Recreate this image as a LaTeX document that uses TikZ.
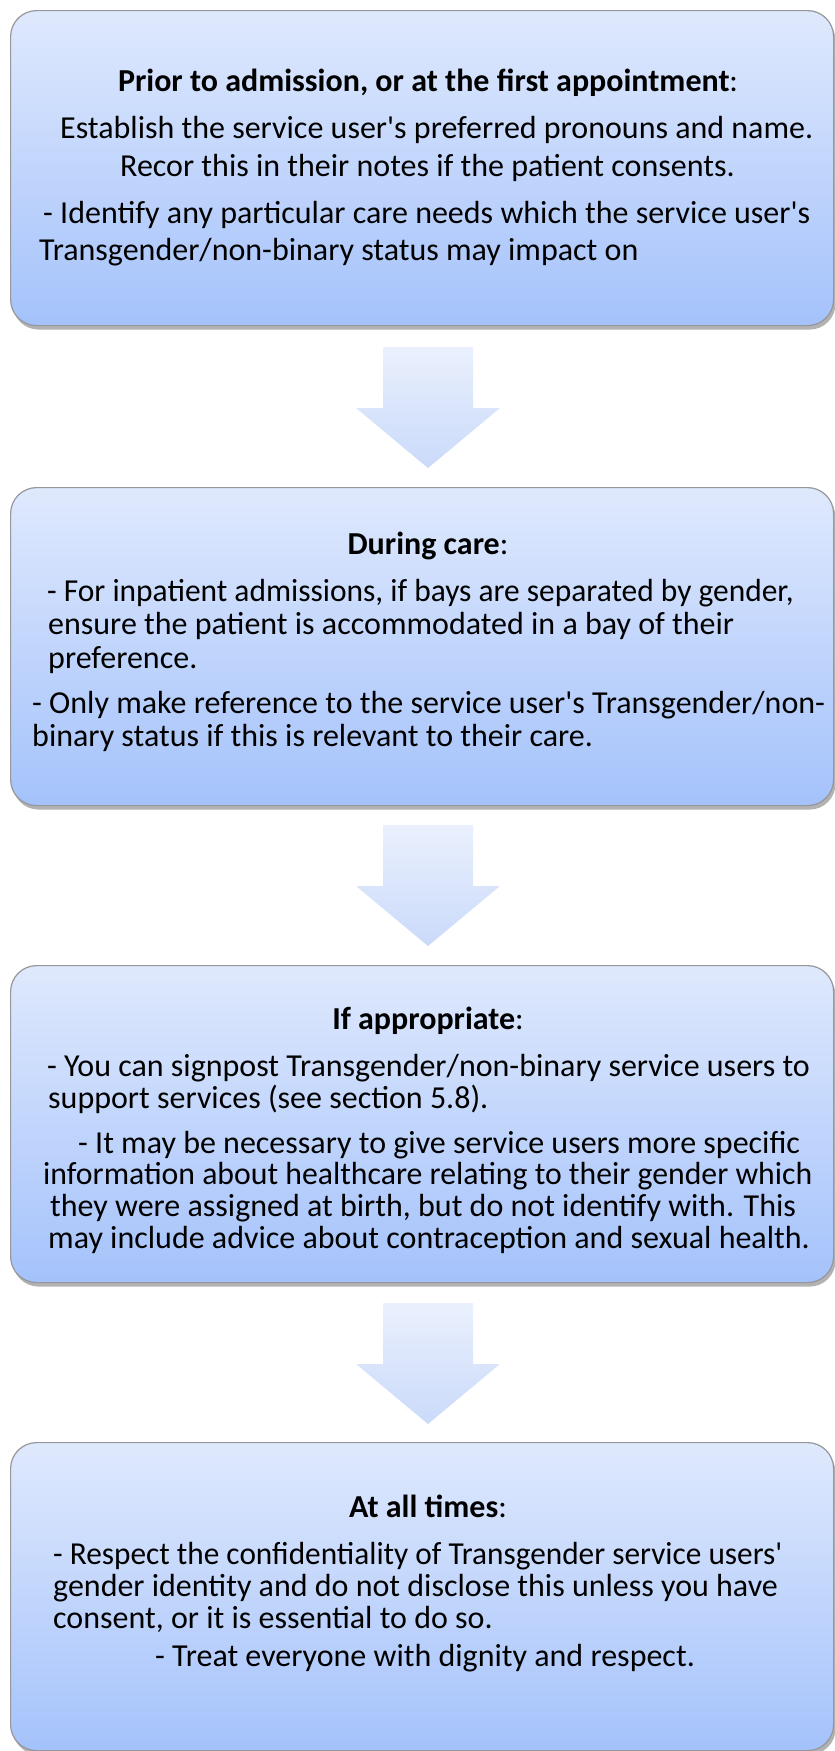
\documentclass[tikz,border=0pt]{standalone}
\usepackage{fontspec}
\usepackage{graphicx}
\setmainfont{Carlito}[Ligatures=TeXOff]
\usetikzlibrary{calc,shadows}
\definecolor{boxtop}{RGB}{223,233,253}
\definecolor{boxbot}{RGB}{164,194,251}
\definecolor{boxline}{RGB}{150,150,155}
\definecolor{arrtop}{RGB}{234,240,253}
\definecolor{arrbot}{RGB}{202,218,250}
\tikzset{
  flowbox/.style={draw=boxline, line width=1.2pt, rounded corners=26pt,
    top color=boxtop, bottom color=boxbot, anchor=north west, inner sep=0pt,
    drop shadow={shadow xshift=2pt, shadow yshift=-4pt, opacity=0.5, fill=black!60}},
  txt/.style={inner sep=0pt, font=\fontsize{32}{38}\selectfont, text=black},
  ln/.style={txt, anchor=base west},
  hd/.style={txt, anchor=base},
  blockarrow/.style={top color=arrtop, bottom color=arrbot, draw=none}
}
\newcommand{\bxnode}[4]{% name, left, top, height
  \node[flowbox, minimum width=823pt, minimum height=#4pt] (#1) at (#2pt,-#3pt) {};}
\newcommand{\barrow}[2]{% name, top y
  \coordinate (#1) at (428pt,-#2pt);
  \shade[blockarrow] ($(#1)+(-45pt,0)$) -- ($(#1)+(45pt,0)$) -- ($(#1)+(45pt,-61pt)$)
    -- ($(#1)+(72pt,-61pt)$) -- ($(#1)+(0,-121pt)$) -- ($(#1)+(-72pt,-61pt)$)
    -- ($(#1)+(-45pt,-61pt)$) -- cycle;}
\begin{document}
\begin{tikzpicture}[x=1pt,y=1pt]
\useasboundingbox (0,0) rectangle (835,-1751);
% boxes
\bxnode{b1}{10}{10}{315}
\bxnode{b2}{10}{487}{318}
\bxnode{b3}{10}{965}{317}
\bxnode{b4}{10}{1442}{308}
% arrows between boxes
\barrow{a1}{347}
\barrow{a2}{825}
\barrow{a3}{1303}
% box 1
\node[hd] (b1h) at (428,-91) {\textbf{Prior to admission, or at the first appointment}:};
\node[ln] (b1l1) at (60,-138) {Establish the service user's preferred pronouns and name.};
\node[ln] (b1l2) at (120,-176) {Recor this in their notes if the patient consents.};
\node[ln] (b1l3) at (43,-223) {- Identify any particular care needs which the service user's};
\node[ln] (b1l4) at (39,-260) {Transgender/non-binary status may impact on};
% box 2
\node[hd] (b2h) at (428,-554) {\textbf{During care}:};
\node[ln] (b2l1) at (47,-601) {\scalebox{0.982}[1]{- For inpatient admissions, if bays are separated by gender,}};
\node[ln] (b2l2) at (48,-634) {ensure the patient is accommodated in a bay of their};
\node[ln] (b2l3) at (48,-668) {preference.};
\node[ln] (b2l4) at (32,-713) {- Only make reference to the service user's Transgender/non-};
\node[ln] (b2l5) at (32,-746) {binary status if this is relevant to their care.};
% box 3
\node[hd] (b3h) at (428,-1029) {\textbf{If appropriate}:};
\node[ln] (b3l1) at (47,-1076) {- You can signpost Transgender/non-binary service users to};
\node[ln] (b3l2) at (48,-1108) {support services (see section 5.8).};
\node[ln] (b3l3) at (78,-1153) {- It may be necessary to give service users more specific};
\node[ln] (b3l4) at (43,-1184) {\scalebox{0.992}[1]{information about healthcare relating to their gender which}};
\node[ln] (b3l5) at (50,-1216) {they were assigned at birth, but do not identify with. This};
\node[ln] (b3l6) at (48,-1248) {may include advice about contraception and sexual health.};
% box 4
\node[hd] (b4h) at (428,-1517) {\textbf{At all times}:};
\node[ln] (b4l1) at (53,-1564) {\scalebox{0.978}[1]{- Respect the confidentiality of Transgender service users'}};
\node[ln] (b4l2) at (53,-1596) {gender identity and do not disclose this unless you have};
\node[ln] (b4l3) at (53,-1628) {consent, or it is essential to do so.};
\node[ln] (b4l4) at (155,-1666) {- Treat everyone with dignity and respect.};
\end{tikzpicture}
\end{document}
